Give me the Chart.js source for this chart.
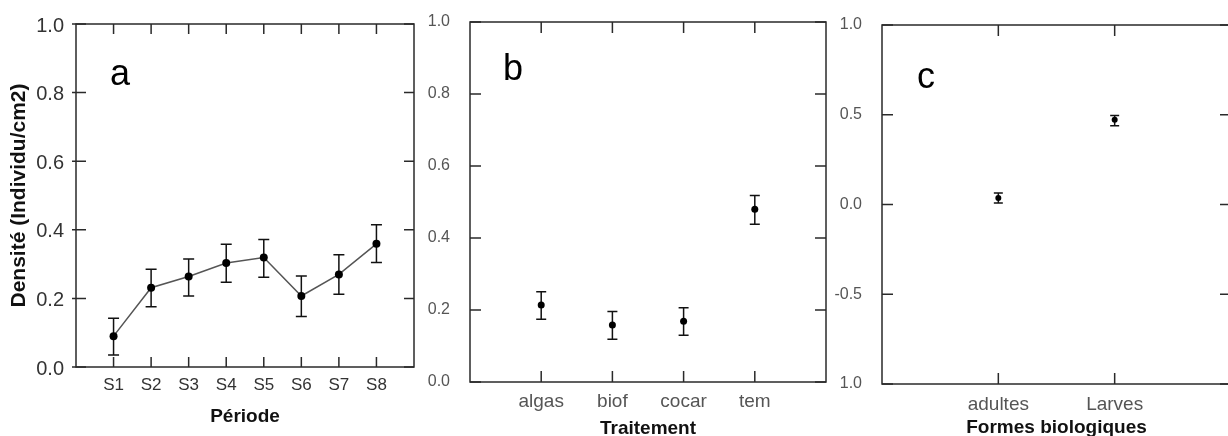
<!DOCTYPE html>
<html>
<head>
<meta charset="utf-8">
<script src="https://cdn.jsdelivr.net/npm/chart.js@4/dist/chart.umd.min.js"></script>
<style>
  html, body { margin: 0; padding: 0; background: #fff; overflow: hidden; }
  #wrap { position: relative; width: 1228px; height: 436px; overflow: hidden; }
  canvas { position: absolute; top: 0; }
</style>
</head>
<body>
<div id="wrap">
  <canvas id="chartA" width="420" height="436" style="left:0px"></canvas>
  <canvas id="chartB" width="410" height="440" style="left:420px"></canvas>
  <canvas id="chartC" width="410" height="440" style="left:830px"></canvas>
</div>
<script>
// a : densité par période
var periodes = ['S1', 'S2', 'S3', 'S4', 'S5', 'S6', 'S7', 'S8'];
var densitePeriode = [0.090, 0.231, 0.264, 0.303, 0.319, 0.207, 0.270, 0.359];
var periodeBas = [0.035, 0.176, 0.207, 0.247, 0.262, 0.147, 0.212, 0.305];
var periodeHaut = [0.142, 0.285, 0.315, 0.358, 0.372, 0.265, 0.327, 0.415];
var ticksA = [0, 0.2, 0.4, 0.6, 0.8, 1.0];
var labelsA = ['0.0', '0.2', '0.4', '0.6', '0.8', '1.0'];

// b : densité par traitement
var traitements = ['algas', 'biof', 'cocar', 'tem'];
var densiteTrait = [0.214, 0.158, 0.169, 0.480];
var traitBas = [0.174, 0.119, 0.130, 0.438];
var traitHaut = [0.251, 0.196, 0.206, 0.518];
var ticksB = [0, 0.2, 0.4, 0.6, 0.8, 1.0];
var labelsB = ['0.0', '0.2', '0.4', '0.6', '0.8', '1.0'];

// c : formes biologiques
var formes = ['adultes', 'Larves'];
var densiteForme = [0.036, 0.472];
var formeBas = [0.008, 0.439];
var formeHaut = [0.064, 0.496];
var ticksC = [-1, -0.5, 0, 0.5, 1];
var labelsC = ['1.0', '-0.5', '0.0', '0.5', '1.0'];

var FONT = 'Liberation Sans, Arial, sans-serif';

// barres d'erreur verticales avec petits chapeaux
var errorBars = {
  id: 'errorBars',
  beforeDatasetsDraw: function(chart, args, opts) {
    var ctx = chart.ctx, y = chart.scales.y;
    var meta = chart.getDatasetMeta(0);
    ctx.save();
    ctx.strokeStyle = '#111';
    ctx.lineWidth = 1.5;
    meta.data.forEach(function(pt, i) {
      var top = y.getPixelForValue(opts.hi[i]);
      var bot = y.getPixelForValue(opts.lo[i]);
      var w = opts.cap / 2;
      ctx.beginPath();
      ctx.moveTo(pt.x, top); ctx.lineTo(pt.x, bot);
      ctx.moveTo(pt.x - w, top); ctx.lineTo(pt.x + w, top);
      ctx.moveTo(pt.x - w, bot); ctx.lineTo(pt.x + w, bot);
      ctx.stroke();
    });
    ctx.restore();
  }
};

// cadre + graduations tournées vers l'intérieur sur les quatre côtés
var frame = {
  id: 'frame',
  afterDraw: function(chart, args, opts) {
    var ctx = chart.ctx, a = chart.chartArea;
    var x = chart.scales.x, y = chart.scales.y;
    var t = opts.tick;
    ctx.save();
    ctx.strokeStyle = '#2a2a2a';
    ctx.lineWidth = 1.5;
    ctx.strokeRect(a.left, a.top, a.right - a.left, a.bottom - a.top);
    ctx.beginPath();
    x.ticks.forEach(function(tk) {
      var px = x.getPixelForValue(tk.value);
      ctx.moveTo(px, a.bottom); ctx.lineTo(px, a.bottom - t);
      ctx.moveTo(px, a.top); ctx.lineTo(px, a.top + t);
    });
    y.ticks.forEach(function(tk) {
      var py = y.getPixelForValue(tk.value);
      ctx.moveTo(a.left - (opts.out || 0), py); ctx.lineTo(a.left + t, py);
      ctx.moveTo(a.right, py); ctx.lineTo(a.right - t, py);
    });
    ctx.stroke();
    // lettre du panneau
    ctx.fillStyle = '#000';
    ctx.font = '36px ' + FONT;
    ctx.textBaseline = 'alphabetic';
    ctx.fillText(opts.tag, a.left + opts.tagX, a.top + opts.tagY);
    ctx.restore();
  }
};

function makePanel(id, cfg) {
  var pts = cfg.values.map(function(v, i) { return { x: i + 1, y: v }; });
  return new Chart(document.getElementById(id).getContext('2d'), {
    type: 'line',
    data: {
      datasets: [{
        data: pts,
        showLine: cfg.line,
        borderColor: '#555',
        borderWidth: 1.5,
        pointRadius: cfg.radius,
        pointBackgroundColor: '#000',
        pointBorderColor: '#000',
        pointBorderWidth: 0,
        tension: 0
      }]
    },
    options: {
      responsive: false,
      animation: false,
      layout: { padding: cfg.padding },
      plugins: {
        legend: { display: false },
        tooltip: { enabled: false },
        errorBars: { lo: cfg.lo, hi: cfg.hi, cap: cfg.cap },
        frame: { tick: cfg.tick, out: cfg.out, tag: cfg.tag, tagX: cfg.tagX, tagY: cfg.tagY }
      },
      scales: {
        x: {
          type: 'linear',
          min: 0,
          max: cfg.cats.length + 1,
          afterBuildTicks: function(s) {
            s.ticks = cfg.cats.map(function(c, i) { return { value: i + 1 }; });
          },
          afterFit: function(s) { s.height = cfg.xHeight; },
          grid: { display: false },
          border: { display: false },
          ticks: {
            autoSkip: false,
            maxRotation: 0,
            padding: cfg.xPad,
            color: cfg.tickColor,
            font: { family: FONT, size: cfg.xSize },
            callback: function(v) { return cfg.cats[v - 1]; }
          },
          title: {
            display: true,
            text: cfg.xTitle,
            color: '#111',
            padding: { top: 0, bottom: cfg.xTitlePad },
            font: { family: FONT, size: 19, weight: 'bold', lineHeight: 1 }
          }
        },
        y: {
          min: cfg.yTicks[0],
          max: cfg.yTicks[cfg.yTicks.length - 1],
          afterBuildTicks: function(s) {
            s.ticks = cfg.yTicks.map(function(v) { return { value: v }; });
          },
          afterFit: function(s) { s.width = cfg.yWidth; },
          grid: { display: false },
          border: { display: false },
          ticks: {
            padding: cfg.yPad,
            labelOffset: cfg.yOffset,
            color: cfg.tickColor,
            font: { family: FONT, size: cfg.ySize },
            callback: function(v, i) { return cfg.yLabels[i]; }
          },
          title: {
            display: !!cfg.yTitle,
            text: cfg.yTitle,
            color: '#111',
            padding: { top: 9, bottom: 0 },
            font: { family: FONT, size: 21, weight: 'bold', lineHeight: 1 }
          }
        }
      }
    },
    plugins: [errorBars, frame]
  });
}

makePanel('chartA', {
  cats: periodes, values: densitePeriode, lo: periodeBas, hi: periodeHaut,
  yTicks: ticksA, yLabels: labelsA,
  line: true, radius: 4, cap: 11, tick: 10, out: 4,
  padding: { top: 24, right: 6, left: 0, bottom: 0 },
  xHeight: 69, yWidth: 76, xPad: 0, yPad: 4, yOffset: 2,
  xSize: 17, ySize: 20, tickColor: '#333',
  xTitle: 'Période', xTitlePad: 10, yTitle: 'Densité (Individu/cm2)',
  tag: 'a', tagX: 34, tagY: 61
});

makePanel('chartB', {
  cats: traitements, values: densiteTrait, lo: traitBas, hi: traitHaut,
  yTicks: ticksB, yLabels: labelsB,
  line: false, radius: 3.5, cap: 10, tick: 11, out: 0,
  padding: { top: 22, right: 3, left: 0, bottom: 0 },
  xHeight: 58, yWidth: 50, xPad: 0, yPad: 12, yOffset: 0,
  xSize: 19, ySize: 16, tickColor: '#555',
  xTitle: 'Traitement', xTitlePad: 2, yTitle: '',
  tag: 'b', tagX: 33, tagY: 58
});

makePanel('chartC', {
  cats: formes, values: densiteForme, lo: formeBas, hi: formeHaut,
  yTicks: ticksC, yLabels: labelsC,
  line: false, radius: 3, cap: 9, tick: 11, out: 0,
  padding: { top: 25, right: 9, left: 0, bottom: 0 },
  xHeight: 56, yWidth: 52, xPad: 1, yPad: 12, yOffset: 0,
  xSize: 19, ySize: 16, tickColor: '#555',
  xTitle: 'Formes biologiques', xTitlePad: 3, yTitle: '',
  tag: 'c', tagX: 35, tagY: 63
});
</script>
</body>
</html>
